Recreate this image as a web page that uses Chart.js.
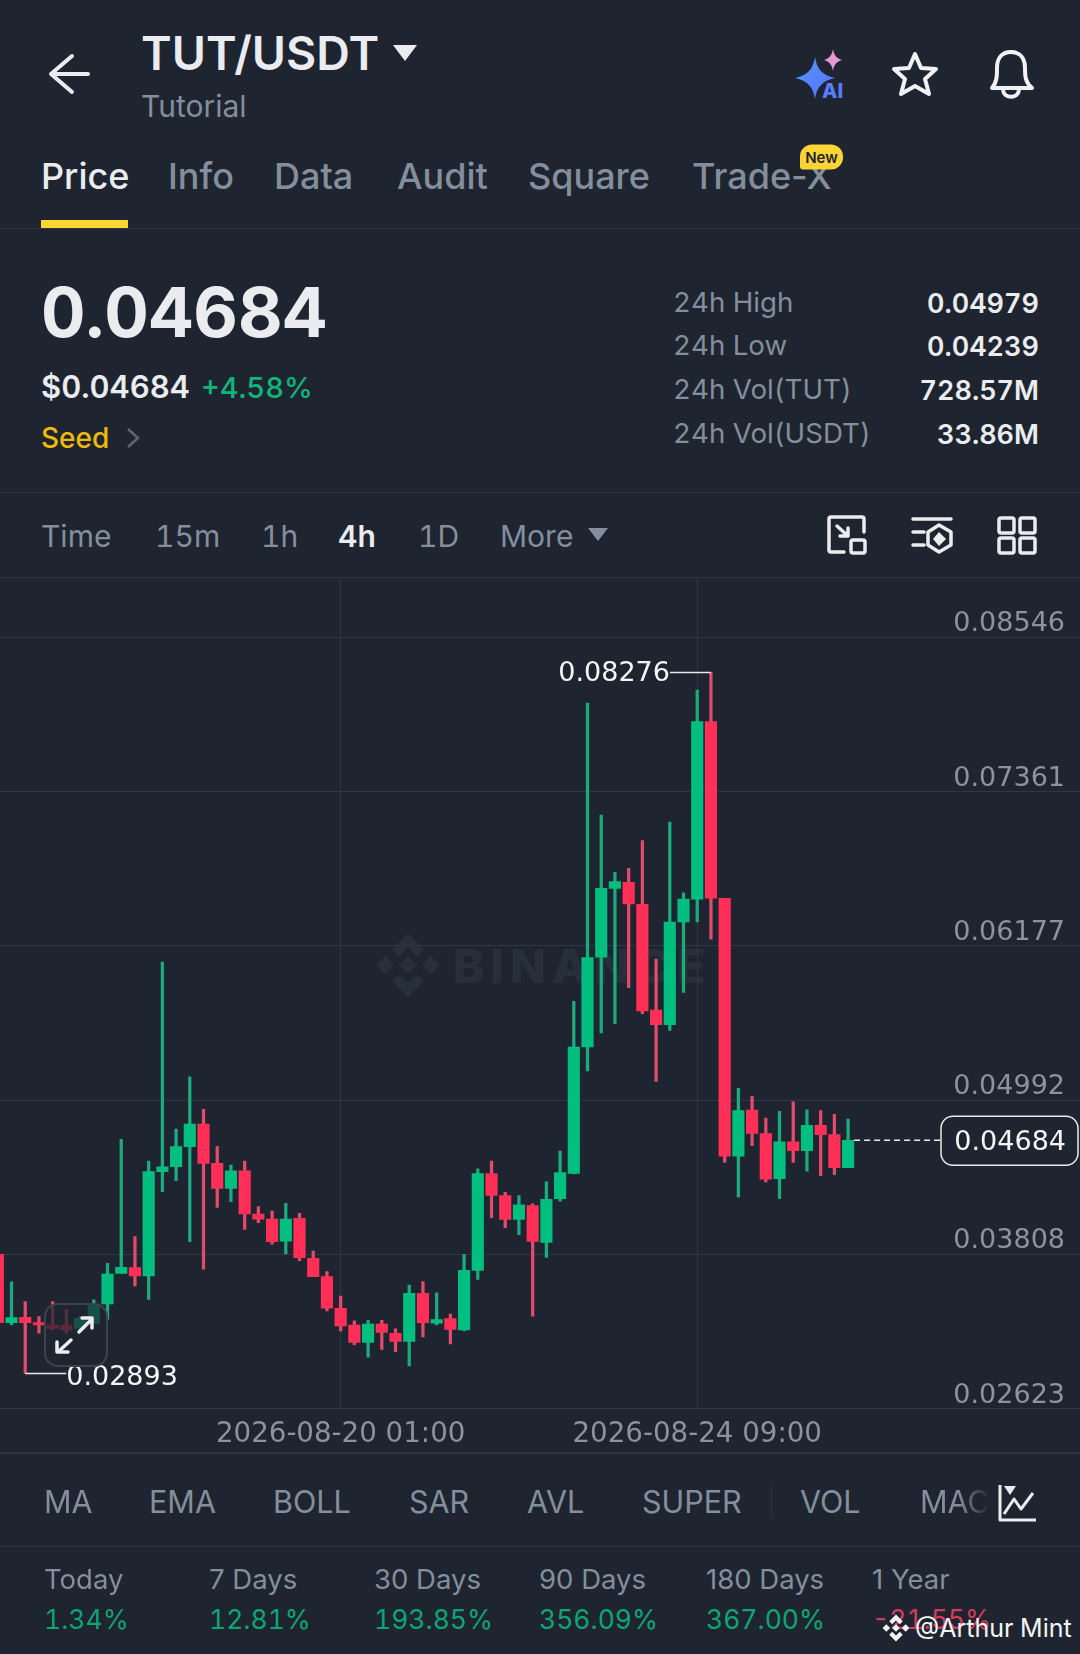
<!DOCTYPE html>
<html>
<head>
<meta charset="utf-8">
<title>TUT/USDT</title>
<script src="https://cdn.jsdelivr.net/npm/chart.js@4/dist/chart.umd.min.js"></script>
<style>
  html, body { margin: 0; padding: 0; background: #1e2530; }
  #page { position: relative; width: 1080px; height: 1654px; overflow: hidden; background: #1e2530; font-family: Inter, "Noto Sans", sans-serif; color: #848e9c; font-variant-numeric: tabular-nums; }
  .t { position: absolute; white-space: nowrap; line-height: 1; transform: translateY(-50%); }
  .r { transform: translate(-100%, -50%); }
  .line { position: absolute; left: 0; width: 1080px; height: 1px; background: #2d3440; }
  svg { position: absolute; overflow: visible; }
  #chartWrap { position: absolute; left: 0; top: 578px; width: 1080px; height: 875px; }
  .tab { font-size: 36px; font-weight: 500; top: 176px; font-variant-numeric: normal; }
  .tool { font-size: 30px; top: 536px; }
  .ind { font-size: 30.5px; top: 1502px; }
  .pl { font-size: 27.5px; top: 1580px; font-variant-numeric: normal; }
  .pv { font-size: 26.5px; top: 1619px; color: #0fa573; }
  .stat { font-size: 27.7px; left: 673px; }
  .val { font-size: 27px; left: 1039px; color: #eaecef; font-weight: 600; }
</style>
</head>
<body>
<div id="page">
  <!-- header -->
  <svg style="left:0;top:0" width="1" height="1">
    <path d="M88 74H52M72 56L51 74L72 92" fill="none" stroke="#eaecef" stroke-width="4" stroke-linecap="round" stroke-linejoin="round"/>
    <path d="M393 45H417L405 61Z" fill="#eaecef"/>
    <defs><linearGradient id="aiG" x1="0" y1="0" x2="1" y2="1"><stop offset="0" stop-color="#4f9dff"/><stop offset="1" stop-color="#5a6bff"/></linearGradient></defs>
    <path d="M815 57C817 69 822 75 835 78C822 81 817 87 815 99C813 87 808 81 795 78C808 75 813 69 815 57Z" fill="url(#aiG)"/>
    <path d="M833 49C834 55 836 58 842 60C836 62 834 65 833 71C832 65 830 62 824 60C830 58 832 55 833 49Z" fill="#e59ad0"/>
    <path d="M915 54L921 68L936 69L925 79L929 94L915 86L901 94L905 79L894 69L909 68Z" fill="none" stroke="#f1f2f4" stroke-width="4" stroke-linejoin="round"/>
    <path d="M992 88C997 82 997 76 997 68C997 57 1003 52 1011 52C1019 52 1025 57 1025 68C1025 76 1025 82 1032 88Z" fill="none" stroke="#f1f2f4" stroke-width="4" stroke-linejoin="round"/>
    <path d="M1003 90C1004 99 1018 99 1019 90" fill="none" stroke="#f1f2f4" stroke-width="4"/>
  </svg>
  <div class="t" style="left:141px;top:53px;font-size:46.5px;font-weight:600;color:#eaecef">TUT/USDT</div>
  <div class="t" style="left:141px;top:106px;font-size:30px">Tutorial</div>
  <div class="t" style="left:822px;top:91px;font-size:20px;font-weight:800;color:#5a7dff">AI</div>

  <div class="t tab" style="left:41px;color:#eaecef">Price</div>
  <div class="t tab" style="left:168px">Info</div>
  <div class="t tab" style="left:274px">Data</div>
  <div class="t tab" style="left:397px">Audit</div>
  <div class="t tab" style="left:528px">Square</div>
  <div class="t tab" style="left:692px">Trade-X</div>
  <div class="t" style="left:800px;top:157px;width:43px;height:25px;line-height:25px;text-align:center;background:#fcd535;color:#1e2329;font-size:15px;font-weight:600;border-radius:12px 12px 12px 3px">New</div>
  <div style="position:absolute;left:41px;top:220px;width:87px;height:8px;background:#fcd535"></div>
  <div class="line" style="top:228px"></div>

  <!-- price block -->
  <div class="t" style="left:41px;top:312px;font-size:69px;font-weight:700;color:#eaecef">0.04684</div>
  <div class="t" style="left:41px;top:386px;font-size:31px;font-weight:600;color:#eaecef">$0.04684</div>
  <div class="t" style="left:201px;top:387px;font-size:29px;font-weight:500;color:#0fb67a">+4.58%</div>
  <div class="t" style="left:41px;top:438px;font-size:28px;font-weight:500;color:#f0b90b">Seed</div>
  <svg style="left:0;top:0" width="1" height="1"><path d="M128 429L138 438L128 447" fill="none" stroke="#5e6673" stroke-width="2.5"/></svg>

  <div class="t stat" style="top:303px">24h High</div>
  <div class="t stat" style="top:346px">24h Low</div>
  <div class="t stat" style="top:390px">24h Vol(TUT)</div>
  <div class="t stat" style="top:434px">24h Vol(USDT)</div>
  <div class="t r val" style="top:303px">0.04979</div>
  <div class="t r val" style="top:346px">0.04239</div>
  <div class="t r val" style="top:390px">728.57M</div>
  <div class="t r val" style="top:434px">33.86M</div>
  <div class="line" style="top:492px"></div>

  <!-- toolbar -->
  <div class="t tool" style="left:41px">Time</div>
  <div class="t tool" style="left:155px">15m</div>
  <div class="t tool" style="left:261px">1h</div>
  <div class="t tool" style="left:338px;color:#eaecef;font-weight:600">4h</div>
  <div class="t tool" style="left:418px">1D</div>
  <div class="t tool" style="left:500px">More</div>
  <svg style="left:0;top:0" width="1" height="1">
    <path d="M588 528H608L598 541Z" fill="#848e9c"/>
    <g fill="none" stroke="#eaecef" stroke-width="3.5" stroke-linecap="round" stroke-linejoin="round">
      <path d="M844 552H831Q829 552 829 550V519Q829 517 831 517H862Q864 517 864 519V532"/>
      <rect x="851" y="540" width="14" height="13" rx="2"/>
      <path d="M837 526L848 536M848 528V536H840"/>
      <path d="M913 519H951M913 532H924M913 545H924"/>
      <path d="M939 525L951 532V545L939 552L928 545V532Z"/>
      <rect x="999" y="518" width="15" height="15" rx="2"/>
      <rect x="1020" y="518" width="15" height="15" rx="2"/>
      <rect x="999" y="538" width="15" height="15" rx="2"/>
      <rect x="1020" y="538" width="15" height="15" rx="2"/>
    </g>
    <path d="M939 532L946 539L939 546L933 539Z" fill="#eaecef"/>
  </svg>
  <div class="line" style="top:577px"></div>

  <!-- faint exchange watermark, sits under the chart -->
  <svg style="left:0;top:0" width="1" height="1">
    <g fill="#272f3b" transform="translate(408 965)">
      <path d="M0 -32L16 -16L9 -9L0 -18L-9 -9L-16 -16Z"/>
      <path d="M0 32L16 16L9 9L0 18L-9 9L-16 16Z"/>
      <path d="M0 -9L9 0L0 9L-9 0Z"/>
      <path d="M-23 -9L-14 0L-23 9L-32 0Z"/>
      <path d="M23 -9L32 0L23 9L14 0Z"/>
    </g>
  </svg>
  <div class="t" style="left:453px;top:965px;font-size:47px;font-weight:800;letter-spacing:6px;color:#272f3b">BINANCE</div>

  <div id="chartWrap"><canvas id="chart" width="1080" height="875"></canvas></div>

  <!-- expand button over the left candles -->
  <div style="position:absolute;left:44px;top:1303px;width:60px;height:60px;border:2px solid #3c434f;border-radius:14px;background:rgba(30,37,48,.72)"></div>
  <svg style="left:0;top:0" width="1" height="1">
    <g fill="none" stroke="#eaecef" stroke-width="3.5" stroke-linecap="round" stroke-linejoin="round">
      <path d="M79 1332L92 1319M82 1318H92V1328"/>
      <path d="M71 1340L58 1352M57 1342V1352H68"/>
    </g>
  </svg>

  <div class="line" style="top:1452px;height:2px"></div>

  <!-- indicators -->
  <div class="t ind" style="left:44px">MA</div>
  <div class="t ind" style="left:149px">EMA</div>
  <div class="t ind" style="left:273px">BOLL</div>
  <div class="t ind" style="left:409px">SAR</div>
  <div class="t ind" style="left:527px">AVL</div>
  <div class="t ind" style="left:642px">SUPER</div>
  <div style="position:absolute;left:771px;top:1485px;width:1px;height:34px;background:#2d3440"></div>
  <div class="t ind" style="left:800px">VOL</div>
  <div class="t ind" style="left:920px;width:70px;overflow:hidden;-webkit-mask-image:linear-gradient(90deg,#000 55%,transparent)">MACD</div>
  <svg style="left:0;top:0" width="1" height="1">
    <g fill="none" stroke="#eaecef" stroke-width="3" stroke-linejoin="round">
      <path d="M1000 1485V1520H1036"/>
      <path d="M1004 1514L1014 1499L1021 1509L1033 1493"/>
    </g>
    <path d="M1004 1486H1016L1010 1495Z" fill="#eaecef"/>
  </svg>
  <div class="line" style="top:1546px"></div>

  <!-- performance row -->
  <div class="t pl" style="left:44px">Today</div>
  <div class="t pl" style="left:209px">7 Days</div>
  <div class="t pl" style="left:374px">30 Days</div>
  <div class="t pl" style="left:539px">90 Days</div>
  <div class="t pl" style="left:706px">180 Days</div>
  <div class="t pl" style="left:872px">1 Year</div>
  <div class="t pv" style="left:44px">1.34%</div>
  <div class="t pv" style="left:209px">12.81%</div>
  <div class="t pv" style="left:374px">193.85%</div>
  <div class="t pv" style="left:539px">356.09%</div>
  <div class="t pv" style="left:706px">367.00%</div>
  <div class="t pv" style="left:872px;color:#d63a58">-21.55%</div>

  <svg style="left:0;top:0" width="1" height="1">
    <g fill="#f4f5f6" transform="translate(896 1628) scale(.42)">
      <path d="M0 -32L16 -16L9 -9L0 -18L-9 -9L-16 -16Z"/>
      <path d="M0 32L16 16L9 9L0 18L-9 9L-16 16Z"/>
      <path d="M0 -9L9 0L0 9L-9 0Z"/>
      <path d="M-23 -9L-14 0L-23 9L-32 0Z"/>
      <path d="M23 -9L32 0L23 9L14 0Z"/>
    </g>
  </svg>
  <div class="t" style="left:915px;top:1628px;font-size:25px;color:#f4f5f6">@Arthur Mint</div>
</div>

<script>
// one row per 4h candle
const opens  = [0.03808,0.03284,0.03325,0.03284,0.03266,0.03266,0.03240,0.03278,0.03427,0.03662,0.03706,0.03642,0.04443,0.04481,0.04635,0.04809,0.04507,0.04315,0.04450,0.04118,0.04079,0.03910,0.04084,0.03777,0.03637,0.03394,0.03266,0.03132,0.03273,0.03202,0.03139,0.03509,0.03280,0.03315,0.03227,0.03685,0.04429,0.04260,0.04076,0.04182,0.03900,0.04235,0.04429,0.05400,0.06090,0.06618,0.06664,0.06496,0.05684,0.05571,0.06360,0.06536,0.07899,0.06542,0.04562,0.04915,0.04736,0.04389,0.04673,0.04605,0.04798,0.04727,0.04474];
const highs  = [0.03808,0.03598,0.03445,0.03330,0.03445,0.03386,0.03330,0.03458,0.03739,0.04691,0.03944,0.04525,0.06052,0.04770,0.05172,0.04921,0.04635,0.04494,0.04525,0.04174,0.04141,0.04200,0.04123,0.03834,0.03675,0.03488,0.03297,0.03301,0.03301,0.03237,0.03572,0.03600,0.03512,0.03350,0.03808,0.04464,0.04524,0.04284,0.04260,0.04196,0.04365,0.04601,0.05750,0.08041,0.07181,0.06741,0.06772,0.06985,0.06076,0.07127,0.06584,0.08141,0.08276,0.06542,0.05082,0.05022,0.04855,0.04906,0.04980,0.04917,0.04912,0.04883,0.04846];
const lows   = [0.03284,0.03266,0.02893,0.03202,0.03227,0.03202,0.03215,0.03278,0.03309,0.03662,0.03565,0.03463,0.04289,0.04374,0.03905,0.03695,0.04169,0.04212,0.04000,0.04051,0.03887,0.03811,0.03759,0.03637,0.03373,0.03220,0.03114,0.03019,0.03079,0.03061,0.02951,0.03174,0.03266,0.03121,0.03220,0.03615,0.04090,0.04013,0.03960,0.03333,0.03784,0.04217,0.04426,0.05216,0.05508,0.05579,0.05855,0.05656,0.05136,0.05528,0.05820,0.06360,0.06229,0.04514,0.04250,0.04642,0.04364,0.04236,0.04514,0.04446,0.04412,0.04420,0.04474];
const closes = [0.03284,0.03322,0.03284,0.03266,0.03240,0.03227,0.03317,0.03419,0.03657,0.03708,0.03642,0.04443,0.04481,0.04635,0.04809,0.04507,0.04315,0.04450,0.04118,0.04079,0.03905,0.04079,0.03782,0.03637,0.03394,0.03258,0.03132,0.03273,0.03209,0.03139,0.03509,0.03283,0.03308,0.03231,0.03685,0.04429,0.04260,0.04076,0.04189,0.03907,0.04231,0.04436,0.05400,0.06087,0.06618,0.06670,0.06499,0.05678,0.05571,0.06360,0.06536,0.07899,0.06542,0.04562,0.04912,0.04736,0.04386,0.04673,0.04605,0.04798,0.04727,0.04474,0.04684];

const priceTicks = [0.02623, 0.03808, 0.04992, 0.06177, 0.07361, 0.08546];
const dateTickIndex = [25, 51];
const dateTickLabels = ['2026-08-20 01:00', '2026-08-24 09:00'];

const highMark = 0.08276;
const highMarkIndex = 52;
const lowMark = 0.02893;
const lowMarkIndex = 2;
const lastPrice = 0.04684;

const green = '#02bf7f', greenWick = '#1cab80';
const red = '#ff2f57', redWick = '#e34b6a';
const textColor = '#8b93a0';
const gridColor = '#2f3743';
const numFont = '"DejaVu Sans"';

function isUp(i) { return closes[i] >= opens[i]; }

// min/max marks and the last price box
const marks = {
  id: 'marks',
  afterDatasetsDraw(chart) {
    const ctx = chart.ctx, x = chart.scales.x, y = chart.scales.y;
    ctx.save();
    ctx.font = '27px ' + numFont;
    ctx.textBaseline = 'middle';
    ctx.strokeStyle = '#e8eaed';
    ctx.fillStyle = '#f4f5f6';
    ctx.lineWidth = 1.5;

    const hx = x.getPixelForValue(highMarkIndex), hy = y.getPixelForValue(highMark);
    ctx.beginPath(); ctx.moveTo(hx, hy); ctx.lineTo(hx - 41, hy); ctx.stroke();
    ctx.textAlign = 'right';
    ctx.fillText(highMark.toFixed(5), hx - 41, hy + 2);

    const lx = x.getPixelForValue(lowMarkIndex), ly = y.getPixelForValue(lowMark);
    ctx.beginPath(); ctx.moveTo(lx, ly); ctx.lineTo(lx + 41, ly); ctx.stroke();
    ctx.textAlign = 'left';
    ctx.fillText(lowMark.toFixed(5), lx + 41, ly + 4);

    const py = y.getPixelForValue(lastPrice);
    const px = x.getPixelForValue(opens.length - 1) + 6;
    ctx.setLineDash([6, 4]);
    ctx.beginPath(); ctx.moveTo(px, py); ctx.lineTo(941, py); ctx.stroke();
    ctx.setLineDash([]);
    ctx.beginPath();
    ctx.roundRect(941, py - 24, 137, 49, 12);
    ctx.fillStyle = '#1e2530';
    ctx.fill();
    ctx.stroke();
    ctx.fillStyle = '#f4f5f6';
    ctx.textAlign = 'right';
    ctx.fillText(lastPrice.toFixed(5), 1066, py + 3);
    ctx.restore();
  }
};

new Chart(document.getElementById('chart').getContext('2d'), {
  type: 'bar',
  data: {
    datasets: [
      {
        label: 'body',
        data: opens.map((o, i) => ({ x: i, y: [o, closes[i]] })),
        backgroundColor: opens.map((o, i) => isUp(i) ? green : red),
        barThickness: 11.5
      },
      {
        label: 'wick',
        data: highs.map((h, i) => ({ x: i, y: [lows[i], h] })),
        backgroundColor: highs.map((h, i) => isUp(i) ? greenWick : redWick),
        barThickness: 2.6
      }
    ]
  },
  options: {
    responsive: false,
    animation: false,
    devicePixelRatio: 1,
    layout: { padding: 0 },
    plugins: { legend: { display: false }, tooltip: { enabled: false } },
    datasets: { bar: { grouped: false, borderWidth: 0, borderSkipped: false } },
    scales: {
      x: {
        type: 'linear',
        offset: false,
        min: 0.16,
        max: 78.91,
        afterBuildTicks(scale) { scale.ticks = dateTickIndex.map(v => ({ value: v })); },
        afterFit(scale) { scale.height = 44.3; },
        grid: { color: gridColor, drawTicks: false, lineWidth: 1, offset: false },
        border: { display: false },
        ticks: {
          autoSkip: false,
          maxRotation: 0,
          padding: 9,
          color: textColor,
          font: { family: numFont, size: 27.7 },
          callback: v => dateTickLabels[dateTickIndex.indexOf(v)]
        }
      },
      y: {
        position: 'right',
        min: priceTicks[0],
        max: 0.08992,
        afterBuildTicks(scale) { scale.ticks = priceTicks.map(v => ({ value: v })); },
        afterFit(scale) { scale.width = 0; },
        grid: { color: gridColor, drawTicks: false, lineWidth: 1 },
        border: { display: false },
        ticks: {
          mirror: true,
          padding: -15,
          labelOffset: -13,
          color: textColor,
          font: { family: numFont, size: 27 },
          callback: v => v.toFixed(5)
        }
      }
    }
  },
  plugins: [marks]
});
</script>
</body>
</html>
